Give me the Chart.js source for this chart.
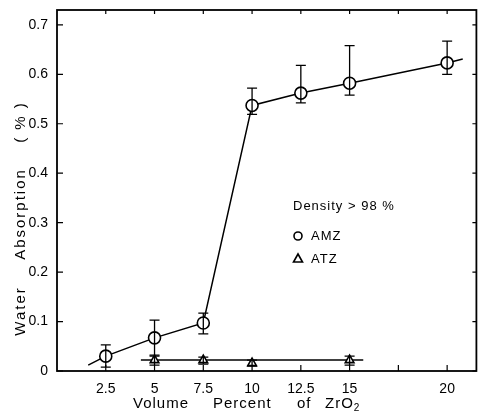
<!DOCTYPE html>
<html>
<head>
<meta charset="utf-8">
<script src="https://cdn.jsdelivr.net/npm/chart.js@4"></script>
<style>
  html, body { margin: 0; padding: 0; background: #fff; }
  #wrap { width: 484px; height: 415px; }
</style>
</head>
<body>
<div id="wrap"><canvas id="grafica" width="484" height="415"></canvas></div>
<script>
// datos
const xAmz = [2.5, 5, 7.5, 10, 12.5, 15, 20];
const amz = [0.030, 0.067, 0.097, 0.537, 0.562, 0.582, 0.623];
const amzAlto = [0.053, 0.103, 0.117, 0.572, 0.618, 0.658, 0.667];
const amzBajo = [0.008, 0.032, 0.075, 0.519, 0.542, 0.558, 0.600];

// linea ajustada (se extiende un poco fuera de los puntos)
const xAmzLinea = [1.6, 2.5, 5, 7.5, 10, 12.5, 15, 20, 20.8];
const amzLinea = [0.012, 0.030, 0.067, 0.097, 0.537, 0.562, 0.582, 0.623, 0.631];

const xAtz = [5, 7.5, 10, 15];
const atz = [0.022, 0.022, 0.016, 0.022];
const atzAlto = [0.030, 0.028, 0.022, 0.030];
const atzBajo = [0.012, 0.014, 0.010, 0.012];
const xAtzLinea = [4.3, 15.7];
const atzLinea = [0.022, 0.022];

const xTicks = [2.5, 5, 7.5, 10, 12.5, 15, 17.5, 20];
const xEtiquetas = ['2.5', '5', '7.5', '10', '12.5', '15', '', '20'];
const yTicks = [0, 0.1, 0.2, 0.3, 0.4, 0.5, 0.6, 0.7];
const yEtiquetas = ['0', '0.1', '0.2', '0.3', '0.4', '0.5', '0.6', '0.7'];

const fuente = '"Liberation Sans", Arial, sans-serif';
const pts = (xs, ys) => xs.map((x, i) => ({ x: x, y: ys[i] }));

// marco, ticks hacia adentro, barras de error, titulos y leyenda
const dibujos = {
  id: 'dibujos',
  afterDatasetsDraw(chart) {
    const c = chart.ctx;
    const sx = chart.scales.x, sy = chart.scales.y;
    c.save();
    c.strokeStyle = '#000';
    c.lineWidth = 1.3;
    const barras = (xs, altos, bajos) => {
      xs.forEach((x, i) => {
        const px = sx.getPixelForValue(x);
        const t = sy.getPixelForValue(altos[i]);
        const b = sy.getPixelForValue(bajos[i]);
        c.beginPath();
        c.moveTo(px, t); c.lineTo(px, b);
        c.moveTo(px - 5, t); c.lineTo(px + 5, t);
        c.moveTo(px - 5, b); c.lineTo(px + 5, b);
        c.stroke();
      });
    };
    barras(xAmz, amzAlto, amzBajo);
    barras(xAtz, atzAlto, atzBajo);
    c.restore();
  },
  afterDraw(chart) {
    const c = chart.ctx, a = chart.chartArea;
    const sx = chart.scales.x, sy = chart.scales.y;
    c.save();
    c.strokeStyle = '#000';
    c.lineWidth = 1.8;
    c.strokeRect(a.left, a.top, a.right - a.left, a.bottom - a.top);
    c.lineWidth = 1.2;
    c.beginPath();
    xTicks.forEach(v => {
      const px = sx.getPixelForValue(v);
      c.moveTo(px, a.bottom); c.lineTo(px, a.bottom - 6);
      c.moveTo(px, a.top); c.lineTo(px, a.top + 4);
    });
    yTicks.forEach(v => {
      const py = sy.getPixelForValue(v);
      c.moveTo(a.left, py); c.lineTo(a.left + 6, py);
      c.moveTo(a.right, py); c.lineTo(a.right - 4, py);
    });
    c.stroke();

    c.fillStyle = '#000';
    c.textBaseline = 'alphabetic';
    // titulo eje x, palabra por palabra
    c.font = '15px ' + fuente;
    c.letterSpacing = '1px';
    c.textAlign = 'left';
    c.fillText('Volume', 133, 408);
    c.fillText('Percent', 213, 408);
    c.fillText('of', 297, 408);
    c.fillText('ZrO', 325, 408);
    const wz = c.measureText('ZrO').width;
    c.font = '10px ' + fuente;
    c.fillText('2', 325 + wz, 411);
    // titulo eje y
    c.font = '15px ' + fuente;
    c.letterSpacing = '2px';
    c.translate(21, 0);
    c.rotate(-Math.PI / 2);
    c.textAlign = 'center';
    c.textBaseline = 'middle';
    c.fillText('Water', -311, 0);
    c.fillText('Absorption', -214, 0);
    c.fillText('( % )', -122, 0);
    c.setTransform(1, 0, 0, 1, 0, 0);
    // leyenda
    c.font = '13px ' + fuente;
    c.letterSpacing = '1px';
    c.textAlign = 'left';
    c.textBaseline = 'middle';
    c.fillText('Density > 98 %', 293, 206);
    c.fillText('AMZ', 311, 236);
    c.fillText('ATZ', 311, 259);
    c.lineWidth = 1.6;
    c.beginPath();
    c.arc(298, 236, 4, 0, Math.PI * 2);
    c.stroke();
    c.beginPath();
    c.moveTo(298, 254); c.lineTo(302.5, 262); c.lineTo(293.5, 262); c.closePath();
    c.stroke();
    c.restore();
  }
};

new Chart(document.getElementById('grafica'), {
  type: 'scatter',
  data: {
    datasets: [
      {
        label: 'AMZ ajuste',
        data: pts(xAmzLinea, amzLinea),
        showLine: true,
        borderColor: '#000',
        borderWidth: 1.5,
        pointRadius: 0,
        order: 3
      },
      {
        label: 'ATZ ajuste',
        data: pts(xAtzLinea, atzLinea),
        showLine: true,
        borderColor: '#000',
        borderWidth: 1.5,
        pointRadius: 0,
        order: 3
      },
      {
        label: 'AMZ',
        data: pts(xAmz, amz),
        showLine: false,
        pointStyle: 'circle',
        pointRadius: 6,
        pointBackgroundColor: '#fff',
        pointBorderColor: '#000',
        pointBorderWidth: 1.6,
        order: 1
      },
      {
        label: 'ATZ',
        data: pts(xAtz, atz),
        showLine: false,
        pointStyle: 'triangle',
        pointRadius: 5,
        pointBackgroundColor: '#fff',
        pointBorderColor: '#000',
        pointBorderWidth: 1.6,
        order: 1
      }
    ]
  },
  options: {
    responsive: false,
    animation: false,
    layout: { padding: { top: 10, right: 6, left: 0, bottom: 0 } },
    plugins: {
      legend: { display: false },
      tooltip: { enabled: false }
    },
    scales: {
      x: {
        type: 'linear',
        min: 0,
        max: 21.5,
        grid: { display: false },
        border: { display: false },
        afterBuildTicks: s => { s.ticks = xTicks.map(v => ({ value: v })); },
        afterFit: s => { s.height = 44; },
        ticks: {
          color: '#000',
          font: { family: fuente, size: 14 },
          padding: 2,
          maxRotation: 0,
          autoSkip: false,
          callback: (v) => { const i = xTicks.indexOf(v); return i >= 0 ? xEtiquetas[i] : ''; }
        }
      },
      y: {
        min: 0,
        max: 0.73,
        grid: { display: false },
        border: { display: false },
        afterBuildTicks: s => { s.ticks = yTicks.map(v => ({ value: v })); },
        afterFit: s => { s.width = 57; },
        ticks: {
          color: '#000',
          font: { family: fuente, size: 14 },
          padding: 1,
          autoSkip: false,
          callback: (v) => { const i = yTicks.findIndex(t => Math.abs(t - v) < 1e-6); return i >= 0 ? yEtiquetas[i] : ''; }
        }
      }
    }
  },
  plugins: [dibujos]
});
</script>
</body>
</html>
